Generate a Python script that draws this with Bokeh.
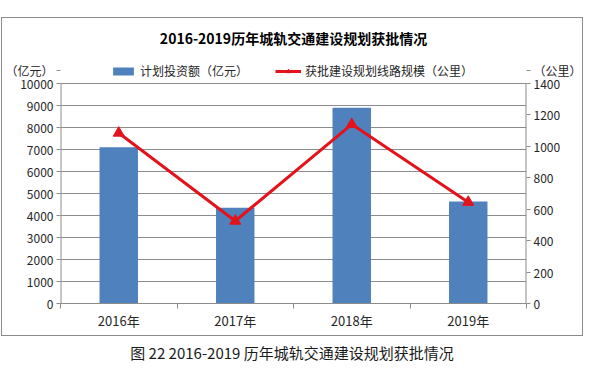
from bokeh.plotting import figure
from bokeh.models import (Range1d, LinearAxis, FixedTicker, Label,
                          Legend, LegendItem, Div)
from bokeh.layouts import column
from bokeh.embed import file_html
from bokeh.resources import INLINE

years = ["2016年", "2017年", "2018年", "2019年"]
invest = [7100, 4350, 8900, 4640]          # 计划投资额（亿元）
length = [1085, 525, 1140, 645]            # 获批建设规划线路规模（公里）
left_ticks = [0, 1000, 2000, 3000, 4000, 5000, 6000, 7000, 8000, 9000, 10000]
right_ticks = [0, 200, 400, 600, 800, 1000, 1200, 1400]

title_text = "2016-2019历年城轨交通建设规划获批情况"
caption_text = "图 22 2016-2019 历年城轨交通建设规划获批情况"
bar_label = "计划投资额（亿元）"
line_label = "获批建设规划线路规模（公里）"
left_unit = "（亿元）"
right_unit = "（公里）"

CJK = "Noto Sans CJK SC"
NUM = "Liberation Sans"
TXT = "#262626"
GRID = "#8c8c8c"

# layout (pixels)
FRAME_H = 285      # frame reaches up to the top of the chart box
AXIS_H = 220       # height of the value scale 0..top tick
UNIT_PX = 233      # height of the unit labels above the baseline
TITLE_PX = 266     # height of the title above the baseline

n = len(years)
xc = [i + 0.5 for i in range(n)]          # category centres
bounds = list(range(n + 1))                # category boundaries

ytop = left_ticks[-1] * FRAME_H / AXIS_H
ktop = right_ticks[-1] * FRAME_H / AXIS_H
y_unit_left = left_ticks[-1] * UNIT_PX / AXIS_H
y_unit_right = right_ticks[-1] * UNIT_PX / AXIS_H
y_title = left_ticks[-1] * TITLE_PX / AXIS_H

p = figure(width=582, height=319, x_range=Range1d(0, n), y_range=Range1d(0, ytop),
           output_backend="svg", toolbar_location=None, title=None,
           x_axis_location=None, y_axis_location=None,
           min_border_left=55, min_border_right=55, min_border_top=0, min_border_bottom=34,
           outline_line_color=None, styles={"border": "1px solid #8c8c8c"},
           margin=(17, 0, 0, 1))

p.extra_y_ranges = {"km": Range1d(0, ktop)}

p.xgrid.grid_line_color = None
p.ygrid.ticker = FixedTicker(ticks=left_ticks)
p.ygrid.grid_line_color = GRID
p.ygrid.grid_line_width = 1

def style_axis(ax):
    ax.axis_line_color = GRID
    ax.major_tick_line_color = GRID
    ax.minor_tick_line_color = None
    ax.major_tick_in = 0
    ax.major_tick_out = 4
    ax.major_label_text_font = NUM
    ax.major_label_text_font_size = "12px"
    ax.major_label_text_color = TXT
    ax.major_label_standoff = 3

ax_left = LinearAxis(ticker=FixedTicker(ticks=left_ticks + [y_unit_left]),
                     major_label_overrides={y_unit_left: left_unit})
style_axis(ax_left)
ax_left.axis_line_color = None
ax_left.major_label_text_font = CJK
p.add_layout(ax_left, "left")

ax_right = LinearAxis(y_range_name="km", ticker=FixedTicker(ticks=right_ticks + [y_unit_right]),
                      major_label_overrides={y_unit_right: right_unit})
style_axis(ax_right)
ax_right.axis_line_color = None
ax_right.major_label_text_font = CJK
p.add_layout(ax_right, "right")

ax_ticks = LinearAxis(ticker=FixedTicker(ticks=bounds))
style_axis(ax_ticks)
ax_ticks.major_tick_out = 5
ax_ticks.major_label_text_font_size = "0px"
ax_ticks.major_label_standoff = 0
p.add_layout(ax_ticks, "below")

ax_cat = LinearAxis(ticker=FixedTicker(ticks=xc),
                    major_label_overrides={x: y for x, y in zip(xc, years)})
ax_cat.axis_line_color = None
ax_cat.major_tick_line_color = None
ax_cat.minor_tick_line_color = None
ax_cat.major_tick_out = 0
ax_cat.major_tick_in = 0
ax_cat.major_label_text_font = CJK
ax_cat.major_label_text_font_size = "13px"
ax_cat.major_label_text_color = TXT
ax_cat.major_label_standoff = 2
p.add_layout(ax_cat, "below")

# value-axis lines, only up to the top tick
p.segment(x0=[bounds[0], bounds[-1]], y0=[left_ticks[0]] * 2,
          x1=[bounds[0], bounds[-1]], y1=[left_ticks[-1]] * 2,
          line_color=GRID, line_width=2)

bars = p.vbar(x=xc, top=invest, width=0.33, fill_color="#4F81BD", line_color=None)
ln = p.line(x=xc, y=length, y_range_name="km", line_color="#E3121B", line_width=3)
sc = p.scatter(x=xc, y=length, y_range_name="km", marker="triangle", size=11,
               fill_color="#E3121B", line_color="#E3121B")

legend = Legend(items=[LegendItem(label=bar_label, renderers=[bars]),
                       LegendItem(label=line_label, renderers=[ln, sc])],
                orientation="horizontal", location=(50, 224),
                border_line_color=None, background_fill_alpha=0,
                label_text_font=CJK, label_text_font_size="12px", label_text_color=TXT,
                glyph_width=26, glyph_height=10, spacing=27, padding=0, margin=0,
                label_standoff=4)
p.add_layout(legend, "center")

p.add_layout(Label(x=n / 2, y=y_title, text=title_text,
                   text_align="center", text_baseline="middle", text_font=CJK,
                   text_font_size="14px", text_font_style="bold", text_color="#000000"))

cap = Div(text=caption_text, width=582,
          styles={"text-align": "center", "font-size": "15px", "font-family": CJK,
                  "color": "#1a1a1a", "line-height": "20px"},
          margin=(7, 0, 0, 1))

layout = column(p, cap)
open("out.html", "w").write(file_html(layout, INLINE))
